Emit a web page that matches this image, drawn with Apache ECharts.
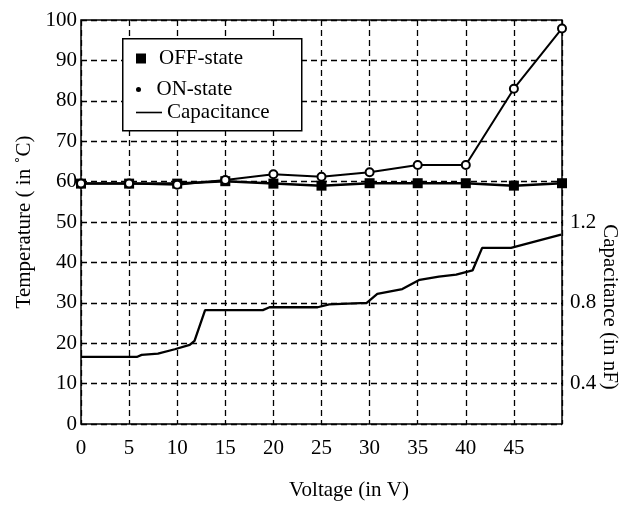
<!DOCTYPE html>
<html>
<head>
<meta charset="utf-8">
<script src="https://cdn.jsdelivr.net/npm/echarts@6/dist/echarts.min.js"></script>
<style>
  html, body { margin: 0; padding: 0; background: #fff; }
  #chart { width: 625px; height: 506px; }
</style>
</head>
<body>
<div id="chart"></div>
<script>
// voltage ticks and measured points
const voltages = [0, 5, 10, 15, 20, 25, 30, 35, 40, 45, 50]
const offState = [59.5, 59.5, 59.5, 60.1, 59.5, 59.0, 59.6, 59.6, 59.6, 59.0, 59.6]
const onState = [59.5, 59.5, 59.2, 60.4, 61.8, 61.2, 62.3, 64.1, 64.1, 83.0, 97.9]

// capacitance curve (nF) vs voltage
const capVoltage = [0, 5.8, 6.3, 8.0, 9.75, 11.3, 11.8, 12.9, 18.9, 19.6, 24.6, 25.8, 29.7, 30.8, 33.4, 35.2, 37.2, 39.0, 40.7, 41.7, 44.7, 49.9]
const capValue = [0.532, 0.532, 0.542, 0.548, 0.570, 0.592, 0.612, 0.764, 0.764, 0.778, 0.778, 0.792, 0.800, 0.844, 0.868, 0.914, 0.930, 0.940, 0.960, 1.072, 1.072, 1.138]

const capLabels = ['0.4', '0.8', '1.2']

const font = 'Liberation Serif'
const chart = echarts.init(document.getElementById('chart'))

const legendBase = {
  orient: 'vertical',
  left: 131,
  itemGap: 0,
  itemWidth: 26,
  textStyle: { fontFamily: font, fontSize: 21, color: '#000' },
  z: 6,
  selectedMode: false
}

const option = {
  backgroundColor: '#fff',
  animation: false,
  grid: {
    left: 81, right: 63, top: 20, bottom: 82,
    show: true, borderColor: '#000', borderWidth: 1.5, backgroundColor: 'transparent'
  },
  legend: [
    Object.assign({}, legendBase, {
      top: 43, itemHeight: 10,
      data: [{ name: 'OFF-state', icon: 'path://M0,0h10v10h-10z', itemStyle: { color: '#000', borderWidth: 0 } }]
    }),
    Object.assign({}, legendBase, {
      top: 74, itemHeight: 5,
      data: [{ name: 'ON-state', icon: 'path://M0,5a5,5 0 1,0 10,0a5,5 0 1,0 -10,0z', itemStyle: { color: '#000', borderWidth: 0 } }]
    }),
    Object.assign({}, legendBase, {
      top: 97, itemHeight: 10,
      data: [{ name: 'Capacitance', icon: 'path://M0,0h26v1.6h-26z', itemStyle: { color: '#000', borderWidth: 0 } }]
    })
  ],
  xAxis: {
    type: 'value', min: 0, max: 50, interval: 5,
    axisLine: { show: false }, axisTick: { show: false },
    axisLabel: {
      margin: 14, color: '#000', fontFamily: font, fontSize: 21,
      formatter: v => (v === 50 ? '' : String(v))
    },
    splitLine: { show: true, lineStyle: { color: '#000', type: [6, 4], width: 1.3 } }
  },
  yAxis: [
    {
      type: 'value', min: 0, max: 100, interval: 10,
      name: 'Temperature ( in \u02DAC)', nameLocation: 'middle', nameGap: 44,
      nameTextStyle: { fontFamily: font, fontSize: 21, color: '#000' },
      axisLine: { show: false }, axisTick: { show: false },
      axisLabel: { margin: 4, color: '#000', fontFamily: font, fontSize: 21 },
      splitLine: { show: true, lineStyle: { color: '#000', type: [6, 4], width: 1.3 } }
    },
    {
      type: 'value', min: 0.2, max: 2.2, interval: 0.2, position: 'right',
      axisLine: { show: false }, axisTick: { show: false },
      axisLabel: {
        margin: 8, color: '#000', fontFamily: font, fontSize: 21,
        formatter: v => {
          const s = v.toFixed(1)
          return capLabels.includes(s) ? s : ''
        }
      },
      splitLine: { show: false }
    }
  ],
  graphic: [
    {
      type: 'rect', left: 122, top: 38, z: 5,
      shape: { width: 179, height: 92 },
      style: { fill: '#fff', stroke: '#000', lineWidth: 1.5 }
    },
    {
      type: 'text', x: 610, y: 307, rotation: -Math.PI / 2, z: 5,
      style: {
        text: 'Capacitance (in nF)', font: '21px "Liberation Serif"', fill: '#000',
        textAlign: 'center', textVerticalAlign: 'middle'
      }
    },
    {
      type: 'text', x: 349, y: 490, z: 5,
      style: {
        text: 'Voltage (in V)', font: '21px "Liberation Serif"', fill: '#000',
        textAlign: 'center', textVerticalAlign: 'middle'
      }
    }
  ],
  series: [
    {
      name: 'Capacitance', type: 'line', yAxisIndex: 1,
      data: capVoltage.map((v, i) => [v, capValue[i]]),
      showSymbol: false, lineStyle: { color: '#000', width: 2.3 }, itemStyle: { color: '#000' }, z: 3
    },
    {
      name: 'OFF-state', type: 'line',
      data: voltages.map((v, i) => [v, offState[i]]),
      symbol: 'rect', symbolSize: 10,
      lineStyle: { color: '#000', width: 2.5 }, itemStyle: { color: '#000' }, z: 3
    },
    {
      name: 'ON-state', type: 'line',
      data: voltages.map((v, i) => [v, onState[i]]),
      symbol: 'circle', symbolSize: 8,
      lineStyle: { color: '#000', width: 2 },
      itemStyle: { color: '#fff', borderColor: '#000', borderWidth: 2 }, z: 4
    }
  ]
}

chart.setOption(option)
</script>
</body>
</html>
